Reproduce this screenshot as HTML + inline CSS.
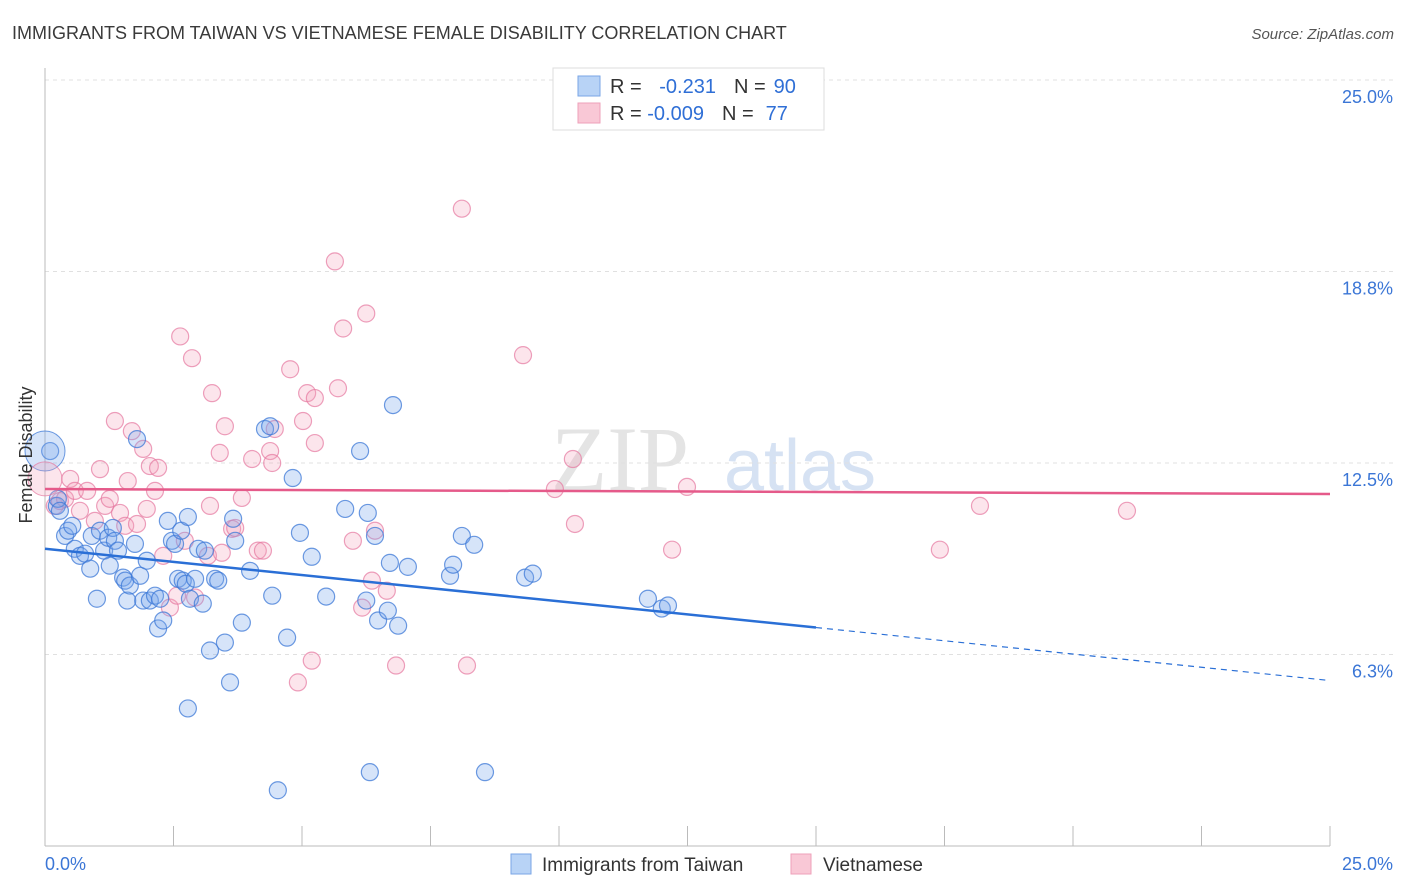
<!DOCTYPE html>
<html><head><meta charset="utf-8">
<style>
body{margin:0;background:#fff;font-family:"Liberation Sans",sans-serif;}
svg{display:block}
</style></head>
<body>
<svg id="chart" width="1406" height="892" xmlns="http://www.w3.org/2000/svg">
<text x="12" y="39" font-size="18" fill="#3a3a3a">IMMIGRANTS FROM TAIWAN VS VIETNAMESE FEMALE DISABILITY CORRELATION CHART</text>
<text x="1394" y="39" font-size="15" fill="#555" font-style="italic" text-anchor="end">Source: ZipAtlas.com</text>
<text x="620" y="490" font-size="92" fill="#e4e4e4" font-family="Liberation Serif" text-anchor="middle">ZIP</text>
<text x="800" y="490" font-size="72" fill="#d6e2f3" text-anchor="middle">atlas</text>
<g id="grid"></g>
<g id="axes"></g>
<g id="pts"></g>
<g id="lines"></g>
<text x="32" y="455" font-size="18" fill="#333" text-anchor="middle" transform="rotate(-90 32 455)">Female Disability</text>
<g>
<rect x="553" y="68" width="271" height="62" fill="#fff" stroke="#ddd"/>
<rect x="578" y="76" width="22" height="20" fill="#b8d3f6" stroke="#7aa6e6"/>
<rect x="578" y="103" width="22" height="20" fill="#f9c8d6" stroke="#eea0ba"/>
<text x="610" y="93" font-size="20" fill="#333">R = <tspan fill="#2f6fd6" dx="12">-0.231</tspan><tspan fill="#333" dx="18">N =</tspan><tspan fill="#2f6fd6" dx="8">90</tspan></text>
<text x="610" y="120" font-size="20" fill="#333">R = <tspan fill="#2f6fd6">-0.009</tspan><tspan fill="#333" dx="18">N =</tspan><tspan fill="#2f6fd6" dx="12">77</tspan></text>
</g>
<g>
<rect x="511" y="854" width="20" height="20" fill="#b8d3f6" stroke="#7aa6e6"/>
<text x="542" y="871" font-size="19" fill="#333">Immigrants from Taiwan</text>
<rect x="791" y="854" width="20" height="20" fill="#f9c8d6" stroke="#eea0ba"/>
<text x="823" y="871" font-size="19" fill="#333">Vietnamese</text>
</g>
</svg>
<script>
const yTicks=[6.25,12.5,18.75,25];
const yTickLabels=["6.3%","12.5%","18.8%","25.0%"];
const xTickLabels=["0.0%","25.0%"];
const taiwanX=[0.10,0.23,0.25,0.29,0.39,0.45,0.53,0.58,0.68,0.78,0.88,0.91,1.01,1.07,1.15,1.23,1.26,1.32,1.36,1.42,1.52,1.56,1.60,1.65,1.75,1.79,1.85,1.91,1.98,2.04,2.14,2.20,2.24,2.30,2.39,2.47,2.53,2.59,2.65,2.68,2.74,2.78,2.82,2.92,2.98,3.07,3.11,3.21,3.31,3.37,3.50,3.60,3.66,3.70,3.83,3.99,4.28,4.38,4.42,4.53,4.71,4.82,4.96,5.19,5.47,5.84,6.13,6.25,6.28,6.32,6.42,6.48,6.67,6.71,6.77,6.87,7.06,7.88,7.94,8.11,8.35,8.56,9.34,9.49,11.73,12.00,12.12,2.78];
const taiwanY=[12.89,11.10,11.33,10.94,10.12,10.29,10.45,9.70,9.47,9.54,9.05,10.12,8.07,10.29,9.64,10.06,9.15,10.38,9.96,9.64,8.76,8.66,8.01,8.50,9.86,13.28,8.82,8.01,9.31,8.01,8.17,7.10,8.07,7.36,10.61,9.96,9.86,8.72,10.29,8.66,8.56,10.74,8.07,8.72,9.70,7.91,9.64,6.38,8.72,8.66,6.64,5.34,10.68,9.96,7.29,8.98,13.61,13.70,8.17,1.82,6.80,12.01,10.22,9.44,8.14,11.00,12.89,8.01,10.87,2.41,10.12,7.36,7.68,9.24,14.39,7.19,9.11,8.82,9.18,10.12,9.83,2.41,8.76,8.89,8.07,7.75,7.85,4.49];
const vietX=[0.19,0.29,0.39,0.49,0.58,0.68,0.82,0.97,1.07,1.17,1.26,1.36,1.46,1.56,1.61,1.69,1.79,1.91,1.98,2.04,2.14,2.20,2.30,2.43,2.57,2.63,2.72,2.86,2.92,3.17,3.21,3.25,3.40,3.44,3.50,3.64,3.70,3.83,4.03,4.14,4.24,4.38,4.42,4.47,4.77,4.92,5.02,5.10,5.19,5.25,5.25,5.64,5.70,5.80,5.99,6.17,6.25,6.36,6.42,6.65,6.83,8.11,8.21,9.30,9.92,10.27,10.31,12.20,12.49,17.41,18.19,21.05];
const vietY=[11.10,11.26,11.33,11.98,11.59,10.94,11.59,10.61,12.30,11.10,11.33,13.87,10.87,10.45,11.91,13.54,10.51,12.96,11.00,12.40,11.59,12.34,9.47,7.78,8.17,16.63,9.96,15.92,8.11,9.47,11.10,14.78,12.83,9.57,13.70,10.35,10.38,11.36,12.63,9.64,9.64,12.89,12.50,13.61,15.56,5.34,13.87,14.78,6.05,14.62,13.15,19.08,14.94,16.89,9.96,7.78,17.38,8.66,10.29,8.33,5.89,20.80,5.89,16.02,11.65,12.63,10.51,9.67,11.72,9.67,11.10,10.94];
const bigTaiwan=[0.0,12.89];
const bigViet=[0.0,11.98];
const taiwanTrend=[9.70,7.13,5.40]; // at 0%, 15%, 25%
const vietTrend=[11.65,11.49]; // at 0%, 25%
const X0=45,X1=1330,Y0=846,Y25=80;
const sx=v=>X0+(X1-X0)*v/25;
const sy=v=>Y0-(Y0-Y25)*v/25;
const NS="http://www.w3.org/2000/svg";
function mk(tag,attrs,parent){const e=document.createElementNS(NS,tag);for(const k in attrs)e.setAttribute(k,attrs[k]);parent.appendChild(e);return e;}
const grid=document.getElementById('grid'),axes=document.getElementById('axes'),pts=document.getElementById('pts'),lines=document.getElementById('lines');
yTicks.forEach((t,i)=>{
  const l=mk('line',{x1:X0,x2:1395,y1:sy(t),y2:sy(t),stroke:'#e0e0e0','stroke-dasharray':'4,4'},grid);
  
  
  const tx=mk('text',{x:1393,y:sy(t)+23,'font-size':18,fill:'#3b76d6','text-anchor':'end'},axes);
  tx.textContent=yTickLabels[i];
  
  
});
const ax=mk('line',{x1:X0,x2:X0,y1:68,y2:Y0,stroke:'#bbb'},axes);


const bx=mk('line',{x1:X0,x2:X1,y1:Y0,y2:Y0,stroke:'#bbb'},axes);


for(let i=0;i<=10;i++){
  const t=mk('line',{x1:sx(i*2.5),x2:sx(i*2.5),y1:826,y2:Y0,stroke:'#bbb'},axes);
  
  
}
[[0,'start',45],[25,'end',1393]].forEach((d,i)=>{
  const t=mk('text',{x:d[2],y:870,'font-size':18,fill:'#3b76d6','text-anchor':d[1]},axes);
  t.textContent=xTickLabels[i];
  
  
});
function dots(xs,ys,fill,stroke,name){
  xs.forEach((x,i)=>{
    const c=mk('circle',{cx:sx(x),cy:sy(ys[i]),r:8.5,fill:fill,stroke:stroke,'stroke-width':1.2},pts);
    
    
  });
}
dots(vietX,vietY,'rgba(244,160,188,0.28)','rgba(230,120,160,0.7)','point-vietnamese');
dots(taiwanX,taiwanY,'rgba(120,165,235,0.3)','rgba(60,120,215,0.75)','point-taiwan');
const b1=mk('circle',{cx:sx(bigTaiwan[0]),cy:sy(bigTaiwan[1]),r:20,fill:'rgba(120,165,235,0.3)',stroke:'rgba(60,120,215,0.75)'},pts);


const b2=mk('circle',{cx:sx(bigViet[0]),cy:sy(bigViet[1]),r:17,fill:'rgba(244,160,188,0.28)',stroke:'rgba(230,120,160,0.7)'},pts);


const tl=mk('line',{x1:sx(0),y1:sy(taiwanTrend[0]),x2:sx(15),y2:sy(taiwanTrend[1]),stroke:'#2a6fd6','stroke-width':2.5},lines);


const td=mk('line',{x1:sx(15),y1:sy(taiwanTrend[1]),x2:sx(25),y2:sy(taiwanTrend[2]),stroke:'#2a6fd6','stroke-width':1.2,'stroke-dasharray':'6,5'},lines);


const vl=mk('line',{x1:sx(0),y1:sy(vietTrend[0]),x2:sx(25),y2:sy(vietTrend[1]),stroke:'#e55a8a','stroke-width':2.5},lines);


</script>
</body></html>
